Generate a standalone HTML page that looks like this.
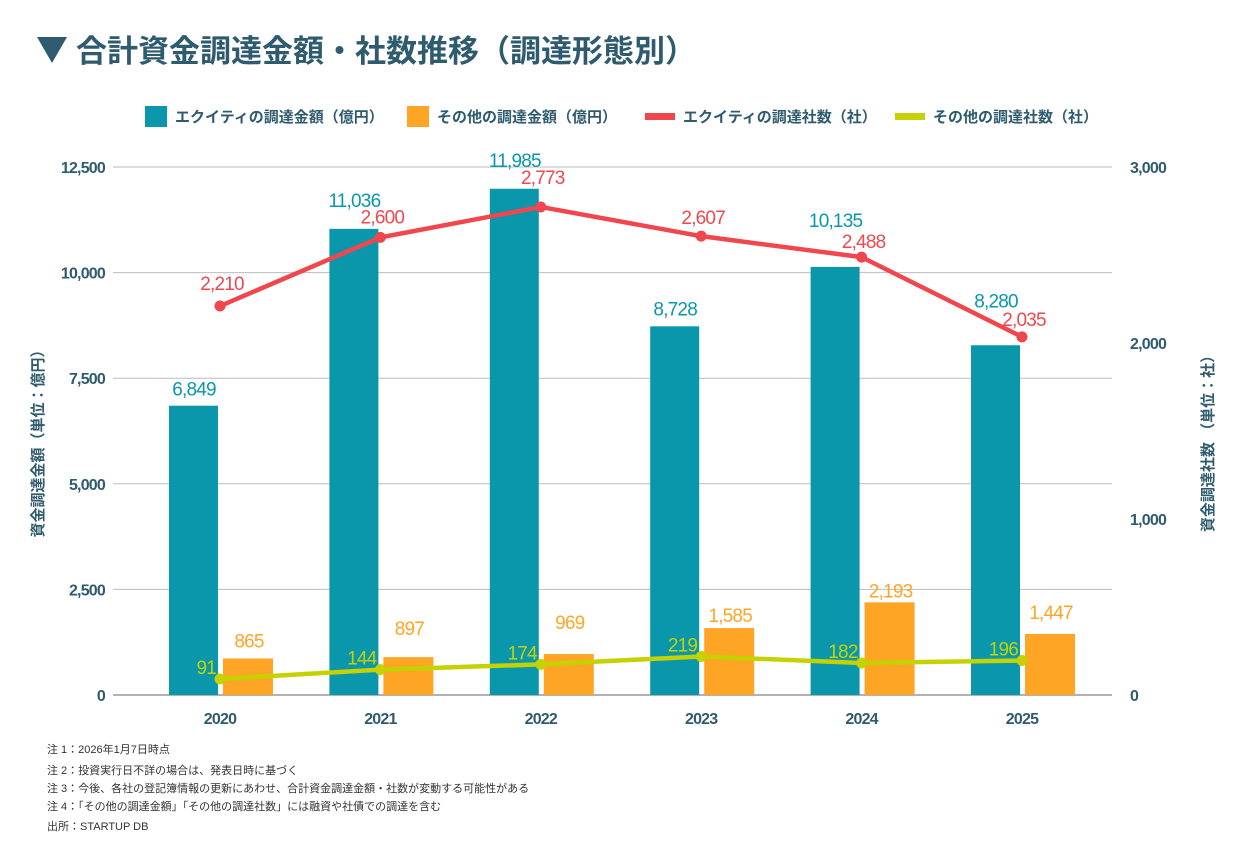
<!DOCTYPE html>
<html><head><meta charset="utf-8"><style>
body{margin:0;background:#fff;width:1240px;height:845px;overflow:hidden;font-family:"Liberation Sans","Noto Sans CJK JP",sans-serif;}
svg text{font-family:"Liberation Sans","Noto Sans CJK JP",sans-serif;}
.num{letter-spacing:-0.8px;}
</style></head><body>
<svg id="c" width="1240" height="845">
<polygon points="37,37 67,37 52,63" fill="#2f5b6e"/>
<text x="76" y="62" font-size="31" font-weight="bold" fill="#2f5b6e">合計資金調達金額・社数推移（調達形態別）</text>
<g font-size="15" fill="#2f5b6e" font-weight="bold">
<rect x="145" y="106" width="22" height="21" fill="#0a97ab"/>
<text x="175" y="122">エクイティの調達金額（億円）</text>
<rect x="407" y="106" width="22" height="21" fill="#ffa526"/>
<text x="437" y="122">その他の調達金額（億円）</text>
<rect x="645" y="113" width="30" height="7" fill="#f0474f"/>
<text x="683" y="122">エクイティの調達社数（社）</text>
<rect x="895" y="113" width="30" height="7" fill="#c5d200"/>
<text x="933" y="122">その他の調達社数（社）</text>
</g>
<text transform="translate(43,440) rotate(-90)" text-anchor="middle" font-size="15" font-weight="bold" fill="#2f5b6e">資金調達金額（単位：億円）</text>
<text transform="translate(1213,440) rotate(-90)" text-anchor="middle" font-size="15" font-weight="bold" fill="#2f5b6e">資金調達社数 （単位：社）</text>
<g font-size="11" fill="#333">
<text x="47" y="753">注 1：2026年1月7日時点</text>
<text x="47" y="774">注 2：投資実行日不詳の場合は、発表日時に基づく</text>
<text x="47" y="792">注 3：今後、各社の登記簿情報の更新にあわせ、合計資金調達金額・社数が変動する可能性がある</text>
<text x="47" y="810">注 4：「その他の調達金額」「その他の調達社数」には融資や社債での調達を含む</text>
<text x="47" y="830">出所：STARTUP DB</text>
</g>
<g id="plot"></g>
</svg>
<script>
const categories=["2020","2021","2022","2023","2024","2025"];
const equityAmount=[6849,11036,11985,8728,10135,8280];
const otherAmount=[865,897,969,1585,2193,1447];
const equityCount=[2210,2600,2773,2607,2488,2035];
const otherCount=[91,144,174,219,182,196];
const leftTicks=[0,2500,5000,7500,10000,12500];
const rightTicks=[0,1000,2000,3000];
// label offsets (layout only)
const eqLabDy=[-10,-22,-22,-11,-40,-38];
const otLabDy=[-11,-22,-25,-6,-5,-15];
const ecLabDy=[-16,-14,-23,-12,-9,-11];
const NS="http://www.w3.org/2000/svg";
const g=document.getElementById('plot');
const y0=695,yTop=167;
const yL=v=>y0-(v/12500)*(y0-yTop);
const yR=v=>y0-(v/3000)*(y0-yTop);
const xC=i=>220+i*160.4;
const fmt=v=>v.toLocaleString('en-US');
function mk(tag,a){const e=document.createElementNS(NS,tag);for(const k in a)e.setAttribute(k,a[k]);g.appendChild(e);return e;}
function tx(x,y,s,a){const e=mk('text',Object.assign({x:x,y:y,class:'num'},a));e.textContent=s;return e;}
leftTicks.forEach(v=>{
 const l=mk('line',{x1:113,x2:1112,y1:yL(v),y2:yL(v),stroke:v===0?'#666':'#bbb','stroke-width':1});
 
 
 const t=tx(105,yL(v)+6,fmt(v),{'text-anchor':'end','font-size':16,'font-weight':'bold',fill:'#2f5b6e'});
 
 
});
rightTicks.forEach(v=>{
 const t=tx(1130,yR(v)+6,fmt(v),{'font-size':16,'font-weight':'bold',fill:'#2f5b6e'});
 
 
});
categories.forEach((c,i)=>{
 const x=xC(i);
 const t=tx(x,724,c,{'text-anchor':'middle','font-size':16,'font-weight':'bold',fill:'#2f5b6e'});
 
 
 const b1=mk('rect',{x:x-51,y:yL(equityAmount[i]),width:49,height:y0-yL(equityAmount[i]),fill:'#0a97ab'});
 
 
 const b2=mk('rect',{x:x+3,y:yL(otherAmount[i]),width:50,height:y0-yL(otherAmount[i]),fill:'#ffa526'});
 
 
});
function line(vals,color,name){
 const p=mk('polyline',{points:vals.map((v,i)=>xC(i)+','+yR(v)).join(' '),fill:'none',stroke:color,'stroke-width':4.5,'stroke-linejoin':'round'});
 
 
 vals.forEach((v,i)=>{
  const d=mk('circle',{cx:xC(i),cy:yR(v),r:5.5,fill:color});
  
  
 });
}
line(otherCount,'#c5d200','other-count');
line(equityCount,'#f0474f','equity-count');
categories.forEach((c,i)=>{
 const x=xC(i);
 let t=tx(x-26,yL(equityAmount[i])+eqLabDy[i],fmt(equityAmount[i]),{'text-anchor':'middle','font-size':19,fill:'#0a97ab'});
 
 
 t=tx(x+29,yL(otherAmount[i])+otLabDy[i],fmt(otherAmount[i]),{'text-anchor':'middle','font-size':19,fill:'#ffa526'});
 
 
 t=tx(x+2,yR(equityCount[i])+ecLabDy[i],fmt(equityCount[i]),{'text-anchor':'middle','font-size':19,fill:'#f0474f'});
 
 
 t=tx(x-4,yR(otherCount[i])-5,fmt(otherCount[i]),{'text-anchor':'end','font-size':19,fill:'#c5d200'});
 
 
});
</script>
</body></html>
